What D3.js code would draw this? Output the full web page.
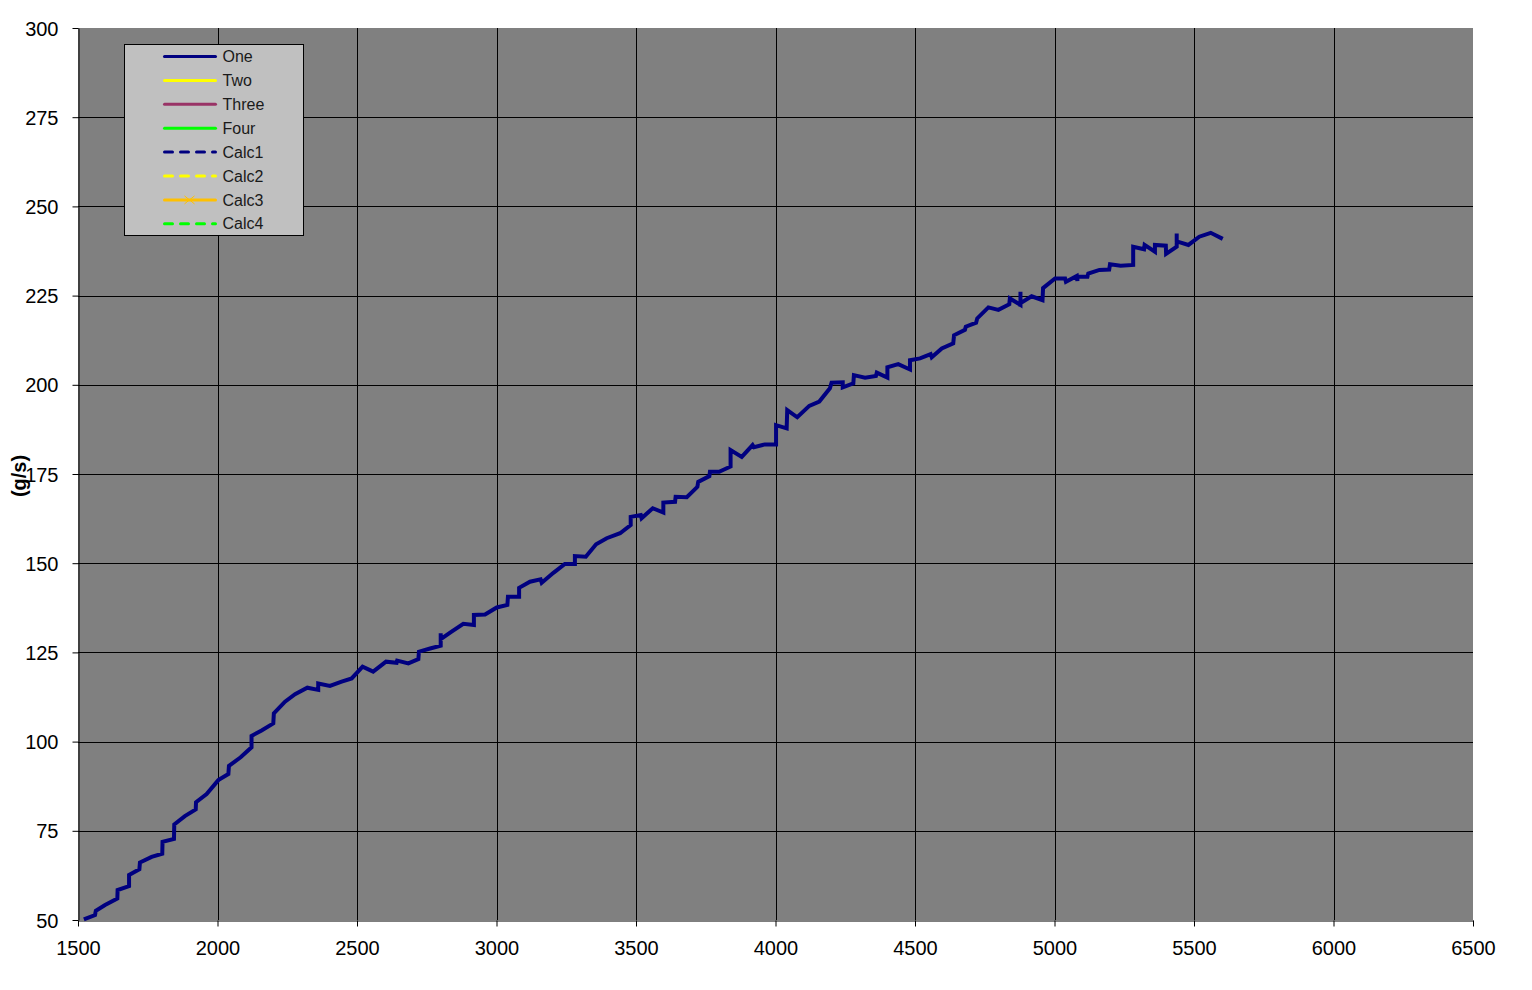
<!DOCTYPE html>
<html>
<head>
<meta charset="utf-8">
<script src="https://cdn.jsdelivr.net/npm/d3@7"></script>
<style>
  body { margin: 0; background: #fff; }
  text { font-family: Arial, "Liberation Sans", sans-serif; }
</style>
</head>
<body>
<div id="chart"></div>
<script>
const width = 1532;
const height = 990;

// engine speed (x) and flow (g/s)
const rpm = [1521, 1561, 1564, 1597, 1641, 1642, 1683, 1683, 1720, 1722,
  1764, 1802, 1803, 1844, 1845, 1883, 1922, 1923, 1961, 2003,
  2039, 2041, 2083, 2122, 2122, 2158, 2200, 2202, 2242, 2278,
  2322, 2361, 2361, 2403, 2445, 2481, 2520, 2558, 2604, 2642,
  2644, 2684, 2720, 2722, 2762, 2800, 2800, 2800, 2839, 2881,
  2919, 2919, 2959, 3001, 3039, 3041, 3081, 3081, 3120, 3158,
  3162, 3204, 3245, 3281, 3281, 3320, 3357, 3395, 3443, 3481,
  3481, 3517, 3520, 3560, 3598, 3598, 3640, 3642, 3682, 3720,
  3723, 3763, 3765, 3798, 3839, 3839, 3879, 3918, 3923, 3962,
  4002, 4002, 4040, 4042, 4078, 4121, 4157, 4195, 4201, 4241,
  4241, 4279, 4281, 4321, 4360, 4363, 4401, 4401, 4440, 4482,
  4482, 4518, 4556, 4560, 4596, 4637, 4640, 4679, 4682, 4719,
  4723, 4763, 4799, 4838, 4840, 4878, 4878, 4878, 4918, 4957,
  4959, 5002, 5038, 5041, 5080, 5082, 5082, 5118, 5121, 5161,
  5196, 5199, 5237, 5282, 5282, 5321, 5323, 5360, 5360, 5399,
  5400, 5438, 5438, 5438, 5480, 5519, 5560, 5603];
const flowOne = [50.2, 51.4, 52.6, 54.2, 56.0, 58.4, 59.5, 62.6, 64.2, 66.1,
  67.7, 68.6, 71.9, 72.7, 76.8, 79.1, 81.0, 83.0, 85.3, 89.2,
  90.9, 93.2, 95.6, 98.4, 101.6, 103.1, 105.1, 107.9, 111.2, 113.3,
  115.1, 114.5, 116.3, 115.6, 116.8, 117.7, 121.0, 119.6, 122.4, 122.1,
  122.7, 121.9, 123.1, 125.2, 126.1, 126.9, 130.4, 128.7, 130.8, 133.0,
  132.7, 135.5, 135.6, 137.6, 138.3, 140.6, 140.6, 143.1, 144.8, 145.5,
  144.5, 147.3, 149.8, 149.8, 152.0, 151.8, 155.3, 157.0, 158.4, 160.7,
  163.0, 163.5, 162.6, 165.4, 164.2, 167.0, 167.2, 168.6, 168.5, 171.4,
  172.8, 174.4, 175.6, 175.6, 177.1, 181.7, 179.8, 183.1, 182.5, 183.3,
  183.3, 188.7, 187.8, 192.9, 190.9, 194.1, 195.3, 199.0, 200.6, 200.7,
  199.3, 200.4, 202.7, 202.0, 202.5, 203.4, 202.0, 204.9, 205.8, 204.3,
  206.9, 207.4, 208.6, 207.7, 210.2, 211.6, 213.9, 215.4, 216.3, 217.4,
  218.6, 221.7, 221.0, 222.6, 224.2, 222.4, 226.1, 222.9, 224.8, 223.7,
  227.1, 229.8, 229.8, 228.9, 230.5, 229.1, 230.3, 230.3, 231.2, 232.2,
  232.3, 233.8, 233.4, 233.6, 238.7, 238.0, 239.2, 237.3, 239.2, 239.0,
  236.7, 238.7, 242.4, 240.2, 239.2, 241.5, 242.6, 240.9];

const xTicks = [1500, 2000, 2500, 3000, 3500, 4000, 4500, 5000, 5500, 6000, 6500];
const yTicks = [50, 75, 100, 125, 150, 175, 200, 225, 250, 275, 300];

const seriesNames = ["One", "Two", "Three", "Four", "Calc1", "Calc2", "Calc3", "Calc4"];
const seriesColors = ["#000080", "#FFFF00", "#993366", "#00FF00", "#000080", "#FFFF00", "#FFC000", "#00FF00"];
const seriesDashed = [false, false, false, false, true, true, false, true];

const plot = {left: 78, right: 1473, top: 28, bottom: 920};

const svg = d3.select("#chart").append("svg")
    .attr("width", width)
    .attr("height", height);

const x = d3.scaleLinear().domain([1500, 6500]).range([plot.left, plot.right]);
const y = d3.scaleLinear().domain([50, 300]).range([plot.bottom, plot.top]);

// grey plot area
svg.append("rect")
    .attr("x", plot.left)
    .attr("y", plot.top)
    .attr("width", plot.right - plot.left)
    .attr("height", plot.bottom - plot.top)
    .style("fill", "#808080");

// gridlines
svg.append("g").selectAll("line")
    .data(xTicks.slice(1, -1))
    .join("line")
    .attr("x1", d => Math.round(x(d)) + 0.5)
    .attr("x2", d => Math.round(x(d)) + 0.5)
    .attr("y1", plot.top)
    .attr("y2", plot.bottom)
    .attr("stroke", "#000")
    .attr("stroke-width", 1);

svg.append("g").selectAll("line")
    .data(yTicks.slice(1, -1))
    .join("line")
    .attr("x1", plot.left)
    .attr("x2", plot.right)
    .attr("y1", d => Math.round(y(d)) + 0.5)
    .attr("y2", d => Math.round(y(d)) + 0.5)
    .attr("stroke", "#000")
    .attr("stroke-width", 1);

// axes
const xAxis = svg.append("g")
    .attr("transform", `translate(0,${plot.bottom + 0.5})`)
    .call(d3.axisBottom(x).tickValues(xTicks).tickFormat(d3.format("d")).tickSizeInner(6).tickSizeOuter(0).tickPadding(14));

const yAxis = svg.append("g")
    .attr("transform", `translate(${plot.left + 0.5},0)`)
    .call(d3.axisLeft(y).tickValues(yTicks).tickFormat(d3.format("d")).tickSizeInner(6).tickSizeOuter(0).tickPadding(14));

[xAxis, yAxis].forEach(a => {
  a.select(".domain").attr("stroke", "#000");
  a.selectAll(".tick line").attr("stroke", "#000");
  a.selectAll(".tick text")
      .style("font-size", "20px")
      .style("font-family", "Arial, 'Liberation Sans', sans-serif")
      .attr("fill", "#000");
});
yAxis.selectAll(".tick text").attr("dy", "0.35em");

// y title
svg.append("text")
    .attr("transform", "translate(26,476) rotate(-90)")
    .attr("text-anchor", "middle")
    .style("font-size", "20px")
    .style("font-weight", "bold")
    .text("(g/s)");

// data line
const line = d3.line()
    .x(d => x(d[0]))
    .y(d => y(d[1]));

svg.append("path")
    .datum(rpm.map((r, i) => [r, flowOne[i]]))
    .attr("fill", "none")
    .attr("stroke", seriesColors[0])
    .attr("stroke-width", 4)
    .attr("stroke-linejoin", "miter")
    .attr("d", line);

// legend
const legend = svg.append("g").attr("transform", "translate(124.5,44.5)");
legend.append("rect")
    .attr("width", 179)
    .attr("height", 191)
    .style("fill", "#C0C0C0")
    .style("stroke", "#000");

const rows = legend.selectAll("g.item")
    .data(seriesNames)
    .join("g")
    .attr("class", "item")
    .attr("transform", (d, i) => `translate(0,${12 + i * 23.9})`);

rows.append("line")
    .attr("x1", 40)
    .attr("x2", 91)
    .attr("stroke", (d, i) => seriesColors[i])
    .attr("stroke-width", 3)
    .attr("stroke-linecap", "round")
    .attr("stroke-dasharray", (d, i) => seriesDashed[i] ? "8,8" : null);

rows.append("text")
    .attr("x", 98)
    .attr("dy", "0.35em")
    .style("font-size", "16px")
    .attr("fill", "#1a1a1a")
    .text(d => d);

// X marker on Calc3
const calc3 = rows.filter((d, i) => i === 6);
calc3.append("path")
    .attr("d", "M60,-4L70,4M60,4L70,-4")
    .attr("stroke", seriesColors[6])
    .attr("stroke-width", 1);
</script>
</body>
</html>
